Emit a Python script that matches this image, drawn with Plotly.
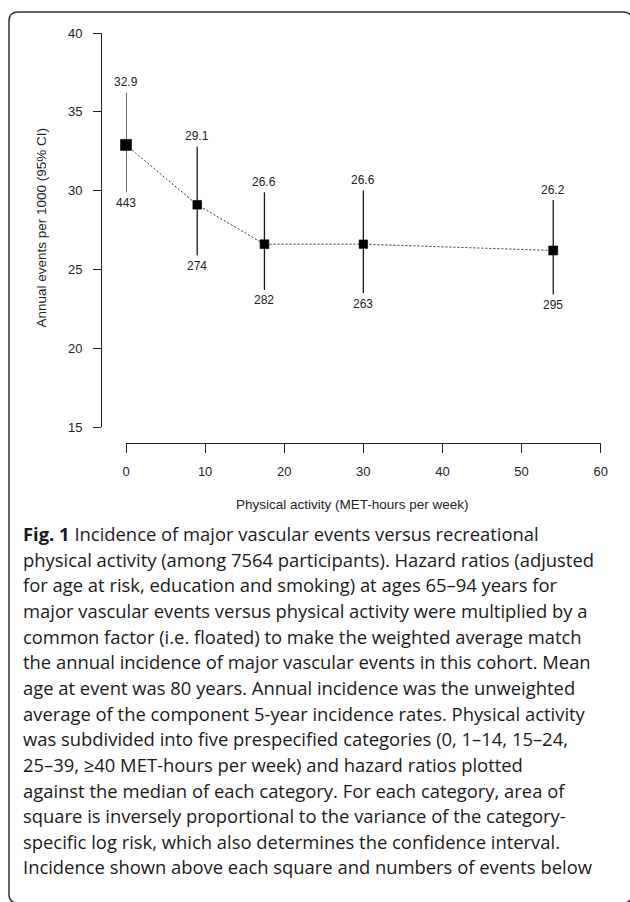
import math
import plotly.graph_objects as go

# ---- data ----
activity = [0, 9, 17.5, 30, 54]            # MET-hours per week (median of category)
incidence = [32.9, 29.1, 26.6, 26.6, 26.2]  # annual events per 1000
ci_lower = [29.9, 25.9, 23.7, 23.5, 23.4]
ci_upper = [36.2, 32.8, 29.9, 30.0, 29.4]
events = [443, 274, 282, 263, 295]
x_ticks = [0, 10, 20, 30, 40, 50, 60]
y_ticks = [15, 20, 25, 30, 35, 40]

caption_lines = [
    "<b>Fig. 1</b> Incidence of major vascular events versus recreational",
    "physical activity (among 7564 participants). Hazard ratios (adjusted",
    "for age at risk, education and smoking) at ages 65–94 years for",
    "major vascular events versus physical activity were multiplied by a",
    "common factor (i.e. floated) to make the weighted average match",
    "the annual incidence of major vascular events in this cohort. Mean",
    "age at event was 80 years. Annual incidence was the unweighted",
    "average of the component 5-year incidence rates. Physical activity",
    "was subdivided into five prespecified categories (0, 1–14, 15–24,",
    "25–39, ≥40 MET-hours per week) and hazard ratios plotted",
    "against the median of each category. For each category, area of",
    "square is inversely proportional to the variance of the category-",
    "specific log risk, which also determines the confidence interval.",
    "Incidence shown above each square and numbers of events below",
]

W, H = 630, 902
def px(x):
    return x / W
def py(y):
    return 1 - y / H

AX = "#222222"
FONT = "Liberation Sans, Arial, sans-serif"

sizes = [11 * math.sqrt(e / events[0]) for e in events]

fig = go.Figure()
fig.add_trace(go.Scatter(
    x=activity, y=incidence, mode="lines",
    line=dict(color="#333333", width=1, dash="2px,2px"),
    hoverinfo="skip", cliponaxis=False, showlegend=False))
fig.add_trace(go.Scatter(
    x=activity, y=incidence, mode="markers",
    marker=dict(symbol="square", size=sizes, color="black", opacity=1,
                line=dict(width=0.6, color="black")),
    error_y=dict(type="data", symmetric=False,
                 array=[u - v for u, v in zip(ci_upper, incidence)],
                 arrayminus=[v - l for v, l in zip(incidence, ci_lower)],
                 color="#1a1a1a", thickness=1.3, width=0),
    cliponaxis=False, showlegend=False))

annotations = []
for xv, v, lo, hi, ev in zip(activity, incidence, ci_lower, ci_upper, events):
    annotations.append(dict(x=xv, y=hi, xref="x", yref="y", text=f"{v:.1f}",
                            showarrow=False, yanchor="middle", yshift=10.5,
                            font=dict(family=FONT, size=12, color=AX)))
    annotations.append(dict(x=xv, y=lo, xref="x", yref="y", text=str(ev),
                            showarrow=False, yanchor="middle", yshift=-10.5,
                            font=dict(family=FONT, size=12, color=AX)))

# axis titles
annotations.append(dict(x=px(352.5), y=py(505), xref="paper", yref="paper",
                        text="Physical activity (MET-hours per week)", showarrow=False,
                        xanchor="center", yanchor="middle",
                        font=dict(family=FONT, size=13.5, color=AX)))
annotations.append(dict(x=px(41.5), y=py(228), xref="paper", yref="paper",
                        text="Annual events per 1000 (95% CI)", showarrow=False,
                        textangle=-90, xanchor="center", yanchor="middle",
                        font=dict(family=FONT, size=13.5, color=AX)))

# caption
for i, line in enumerate(caption_lines):
    base = 540 + 25.64 * i
    annotations.append(dict(x=px(21), y=py(base - 6.4), xref="paper", yref="paper",
                            text=line, showarrow=False, xanchor="left", yanchor="middle",
                            font=dict(family="Open Sans, Noto Sans, sans-serif", size=18.4, color="#1a1a1a")))

# rounded frame
L, T, R, B, r = 9, 12, 632, 903, 9
path = (f"M {px(L)},{py(T + r)} Q {px(L)},{py(T)} {px(L + r)},{py(T)} "
        f"L {px(R - r)},{py(T)} Q {px(R)},{py(T)} {px(R)},{py(T + r)} "
        f"L {px(R)},{py(B - r)} Q {px(R)},{py(B)} {px(R - r)},{py(B)} "
        f"L {px(L + r)},{py(B)} Q {px(L)},{py(B)} {px(L)},{py(B - r)} Z")

fig.update_layout(
    width=W, height=H, template="none",
    margin=dict(l=0, r=0, t=0, b=0, pad=0),
    paper_bgcolor="white", plot_bgcolor="white",
    showlegend=False,
    annotations=annotations,
    shapes=[dict(type="path", path=path, xref="paper", yref="paper",
                 line=dict(color="#333333", width=1.5), fillcolor="rgba(0,0,0,0)")],
    xaxis=dict(domain=[px(126), px(600.7)], range=[0, 60], anchor="free",
               position=py(442.7), showline=True, linecolor=AX, linewidth=1,
               ticks="outside", ticklen=9, tickwidth=1, tickcolor=AX,
               tickvals=x_ticks, showgrid=False, zeroline=False, automargin=False,
               tickfont=dict(family=FONT, size=13, color=AX), ticklabelstandoff=8),
    yaxis=dict(domain=[py(427), py(33)], range=[15, 40], anchor="free",
               position=px(101), showline=True, linecolor=AX, linewidth=1,
               ticks="outside", ticklen=8, tickwidth=1, tickcolor=AX,
               tickvals=y_ticks, showgrid=False, zeroline=False, automargin=False,
               tickfont=dict(family=FONT, size=13, color=AX), ticklabelstandoff=8),
)

fig.write_html("out.html", config={"displayModeBar": False},
               post_script="document.body.style.margin='0';document.body.style.overflow='hidden';")
